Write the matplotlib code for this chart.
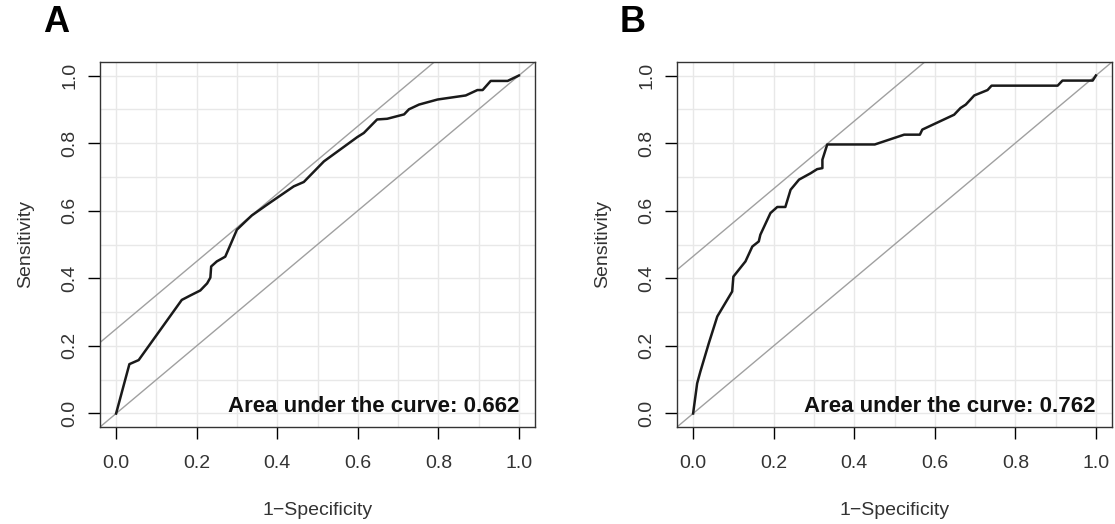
import matplotlib
matplotlib.use("Agg")
import matplotlib.pyplot as plt
import numpy as np

plt.rcParams['font.family'] = ['Liberation Sans', 'DejaVu Sans']

# ROC curve A (1-specificity, sensitivity)
fpr_a = [0.0, 0.033, 0.056, 0.163, 0.184, 0.209, 0.226, 0.234, 0.236, 0.250, 0.271,
         0.300, 0.321, 0.337, 0.375, 0.441, 0.466, 0.516, 0.599, 0.615, 0.648, 0.673,
         0.715, 0.727, 0.752, 0.798, 0.868, 0.897, 0.910, 0.930, 0.972, 1.0]
tpr_a = [0.0, 0.146, 0.158, 0.336, 0.349, 0.364, 0.385, 0.402, 0.435, 0.450, 0.464,
         0.544, 0.568, 0.586, 0.618, 0.672, 0.685, 0.746, 0.818, 0.830, 0.870, 0.872,
         0.885, 0.900, 0.914, 0.929, 0.941, 0.957, 0.957, 0.984, 0.984, 1.0]

# ROC curve B
fpr_b = [0.0, 0.010, 0.018, 0.039, 0.060, 0.097, 0.100, 0.130, 0.147, 0.163, 0.167,
         0.192, 0.209, 0.229, 0.242, 0.263, 0.292, 0.308, 0.321, 0.321, 0.333, 0.451,
         0.524, 0.563, 0.569, 0.648, 0.664, 0.677, 0.698, 0.731, 0.741, 0.905, 0.917,
         0.992, 1.0]
tpr_b = [0.0, 0.089, 0.124, 0.208, 0.287, 0.361, 0.405, 0.450, 0.494, 0.509, 0.529,
         0.593, 0.611, 0.611, 0.662, 0.692, 0.711, 0.723, 0.726, 0.751, 0.796, 0.796,
         0.825, 0.825, 0.840, 0.884, 0.904, 0.914, 0.941, 0.957, 0.970, 0.970, 0.985,
         0.985, 1.0]

panels = ["A", "B"]
aucs = ["0.662", "0.762"]
youden_offsets = [0.25, 0.465]

fig = plt.figure(figsize=(11.15, 5.24), dpi=100)
lefts = [100 / 1115, 677 / 1115]
W, H = 1115, 524

for i, (fx, ty) in enumerate([(fpr_a, tpr_a), (fpr_b, tpr_b)]):
    ax = fig.add_axes([lefts[i], (H - 427) / H, 435 / W, 365 / H])
    ax.set_xlim(-0.04, 1.04)
    ax.set_ylim(-0.04, 1.04)
    # grid
    for g in np.arange(0, 1.01, 0.1):
        ax.axvline(g, color='#e8e8e8', lw=1, zorder=0)
        ax.axhline(g, color='#e8e8e8', lw=1, zorder=0)
    # reference lines
    xs = np.array([-0.1, 1.1])
    ax.plot(xs, xs, color='#a0a0a0', lw=1, zorder=1)
    ax.plot(xs, xs + youden_offsets[i], color='#a0a0a0', lw=1, zorder=1)
    ax.plot(fx, ty, color='#1a1a1a', lw=1.8, zorder=2)
    ax.text(1.0, 0.02, "Area under the curve: " + aucs[i], ha='right', va='center',
            fontsize=16, fontweight='bold', color='#111111')
    ticks = [0.0, 0.2, 0.4, 0.6, 0.8, 1.0]
    ax.set_xticks(ticks)
    ax.set_yticks(ticks)
    ax.set_xticklabels(["%.1f" % t for t in ticks])
    ax.set_yticklabels(["%.1f" % t for t in ticks], rotation=90, va='center')
    ax.tick_params(direction='out', length=8.5, width=1, labelsize=14,
                   labelcolor='#333333')
    ax.tick_params(axis='x', pad=12)
    ax.tick_params(axis='y', pad=7)
    for s in ax.spines.values():
        s.set_linewidth(1)
        s.set_color('#333333')
    ax.set_xlabel("1\u2212Specificity", fontsize=14, color='#333333', labelpad=21)
    ax.set_ylabel("Sensitivity", fontsize=14, color='#333333', labelpad=20)
    fig.text(lefts[i] - 57 / W, 1 - 22 / H, panels[i], fontsize=26, fontweight='bold',
             ha='left', va='center')

fig.savefig("out.png", dpi=100)
